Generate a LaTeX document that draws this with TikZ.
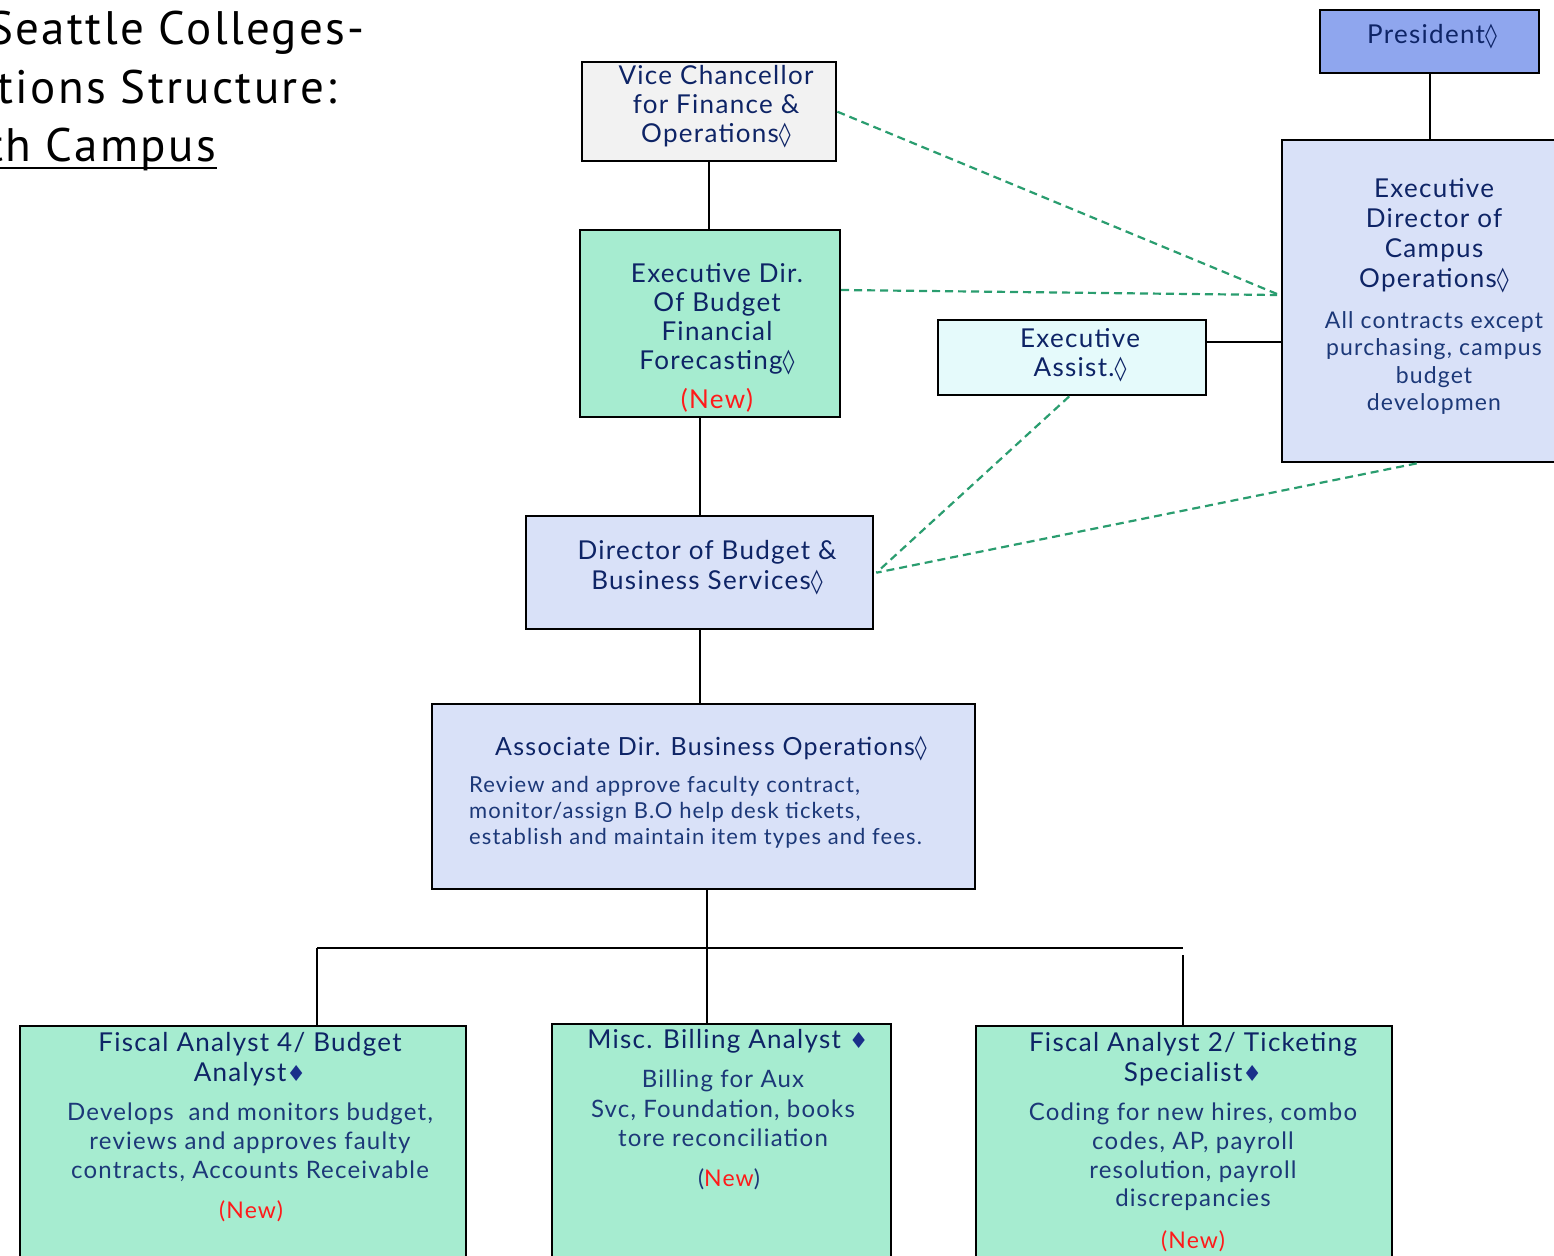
\documentclass[tikz,border=0pt]{standalone}
\usepackage{fontspec}
\setmainfont{Lato}[LetterSpace=5]
\newfontfamily\titlefont{PT Sans}[LetterSpace=5]
\newfontfamily\symfont{DejaVu Sans}
\usetikzlibrary{calc}
\definecolor{navy}{HTML}{0E2466}
\definecolor{navyl}{HTML}{1C3878}
\definecolor{greenfill}{HTML}{A6ECD0}
\definecolor{bluefill}{HTML}{D9E1F8}
\definecolor{presfill}{HTML}{8FA6EE}
\definecolor{eafill}{HTML}{E5FAFB}
\definecolor{vcfill}{HTML}{F2F2F2}
\definecolor{dashgreen}{HTML}{2A9D6F}
\definecolor{newred}{HTML}{FF1A1A}
\definecolor{diablue}{HTML}{1A2F8A}
\newcommand{\loz}{{\symfont\fontsize{24}{24}\selectfont ◊}}
\newcommand{\bdia}{{\color{diablue}\symfont\fontsize{22}{22}\selectfont ♦}}
\newcommand{\fs}[2]{\fontsize{#1}{#2}\selectfont}
\begin{document}
\begin{tikzpicture}[x=1pt,y=-1pt,
  box/.style={draw=black, line width=2.4pt, inner sep=0pt, anchor=north west},
  ttl/.style={text=navy, align=center, inner sep=0pt, anchor=north},
  dsc/.style={text=navyl, align=center, inner sep=0pt, anchor=north},
  newlbl/.style={text=newred, inner sep=0pt, anchor=base},
  conn/.style={line width=2pt, black},
  dashconn/.style={line width=2.2pt, dashgreen, dash pattern=on 8pt off 5pt},
  ]
\useasboundingbox (0,0) rectangle (1554,1255);
% title
\node[anchor=base east, inner sep=0pt, font=\titlefont\fs{47}{58}] (t1) at (365,45) {Seattle Colleges-};
\node[anchor=base east, inner sep=0pt, font=\titlefont\fs{47}{58}] (t2) at (337,103) {tions Structure:};
\node[anchor=base east, inner sep=0pt, font=\titlefont\fs{47}{58}] (t3) at (216,161) {th Campus};
\draw[line width=2pt] (0,168) coordinate (ul1) -- (217,168) coordinate (ul2);

% boxes
\node[box, fill=presfill, minimum width=219pt, minimum height=63pt] (pres) at (1319,9) {};
\node[box, fill=bluefill, minimum width=279pt, minimum height=322pt] (edco) at (1281,139) {};
\node[box, fill=vcfill, minimum width=254pt, minimum height=99pt] (vc) at (581,61) {};
\node[box, fill=greenfill, minimum width=260pt, minimum height=187pt] (edb) at (579,229) {};
\node[box, fill=eafill, minimum width=268pt, minimum height=75pt] (ea) at (937,319) {};
\node[box, fill=bluefill, minimum width=347pt, minimum height=113pt] (dbbs) at (525,515) {};
\node[box, fill=bluefill, minimum width=543pt, minimum height=185pt] (adbo) at (431,703) {};
\node[box, fill=greenfill, minimum width=446pt, minimum height=245pt] (fa4) at (19,1025) {};
\node[box, fill=greenfill, minimum width=339pt, minimum height=247pt] (misc) at (551,1023) {};
\node[box, fill=greenfill, minimum width=416pt, minimum height=245pt] (fa2) at (975,1025) {};

% texts
\node[ttl, anchor=base, font=\fs{26}{29}] (prest) at (1432,44) {President\loz};
\node[ttl, font=\fs{26}{30}] (edcot) at (1434,178) {Executive\\Director of\\Campus\\Operations\loz};
\node[dsc, font=\fs{23}{27.5}] (edcod) at (1434,311) {All contracts except\\purchasing, campus\\budget\\developmen};
\node[ttl, font=\fs{26}{29}] (vct) at (716,65) {Vice Chancellor\\for Finance \&\\Operations\loz};
\node[ttl, font=\fs{26}{29}] (edbt) at (717,263) {Executive Dir.\\Of Budget\\Financial\\Forecasting\loz};
\node[newlbl, font=\fs{26}{29}] (edbn) at (717,408) {(New)};
\node[ttl, font=\fs{26}{29}] (eat) at (1080,328) {Executive\\Assist.\loz};
\node[ttl, font=\fs{26}{30}] (dbbst) at (707,540) {Director of Budget \&\\Business Services\loz};
\node[ttl, anchor=base, font=\fs{25}{29}] (adbot) at (711,755) {Associate Dir. Business Operations\loz};
\node[dsc, align=left, anchor=north west, font=\fs{22}{26}] (adbod) at (469,776) {Review and approve faculty contract,\\monitor/assign B.O help desk tickets,\\establish and maintain item types and fees.};
\node[ttl, font=\fs{26}{30}] (fa4t) at (250,1032) {Fiscal Analyst 4/ Budget\\Analyst\bdia};
\node[dsc, font=\fs{24}{29}] (fa4d) at (250,1103) {Develops~ and monitors budget,\\reviews and approves faulty\\contracts, Accounts Receivable};
\node[newlbl, font=\fs{23}{28}] (fa4n) at (251,1218) {(New)};
\node[ttl, anchor=base, font=\fs{26}{30}] (misct) at (728,1048) {Misc. Billing Analyst \bdia};
\node[dsc, font=\fs{24}{29.5}] (miscd) at (723,1070) {Billing for Aux\\Svc, Foundation, books\\tore reconciliation};
\node[newlbl, font=\fs{23}{28}] (miscn) at (729,1186) {{\color{navyl}(}New{\color{navyl})}};
\node[ttl, font=\fs{26}{30}] (fa2t) at (1193,1032) {Fiscal Analyst 2/ Ticketing\\Specialist\bdia};
\node[dsc, font=\fs{24}{28.7}] (fa2d) at (1193,1103) {Coding for new hires, combo\\codes, AP, payroll\\resolution, payroll\\discrepancies};
\node[newlbl, font=\fs{23}{28}] (fa2n) at (1193,1248) {(New)};

% solid connectors
\draw[conn] (pres.south) -- (pres.south |- edco.north);
\draw[conn] (vc.south) -- (vc.south |- edb.north);
\path ([yshift=-23pt]ea.north east) coordinate (eaR);
\draw[conn] (eaR) -- (eaR -| edco.west);
\draw[conn] (dbbs.north |- edb.south) -- (dbbs.north);
\draw[conn] (dbbs.south) -- (dbbs.south |- adbo.north);
\coordinate (j) at (707,948);
\coordinate (jl) at (317,948);
\coordinate (jr) at (1183,948);
\coordinate (jr2) at (1183,955);
\draw[conn] (adbo.south -| j) -- (j |- misc.north);
\draw[conn] (jl) -- (jr);
\draw[conn] (jl) -- (jl |- fa4.north);
\draw[conn] (jr2) -- (jr2 |- fa2.north);

% dashed connectors
\coordinate (edcoin) at (1277,294);
\coordinate (edbout) at (841,290);
\coordinate (edcoin2) at (1277,295);
\draw[dashconn] (vc.east) -- (edcoin);
\draw[dashconn] (edbout) -- (edcoin2);
\draw[dashconn] ([xshift=-3pt]ea.south) -- ([xshift=2pt]dbbs.east);
\draw[dashconn] ([xshift=-5pt]edco.south) -- ([xshift=2pt]dbbs.east);
\end{tikzpicture}
\end{document}
